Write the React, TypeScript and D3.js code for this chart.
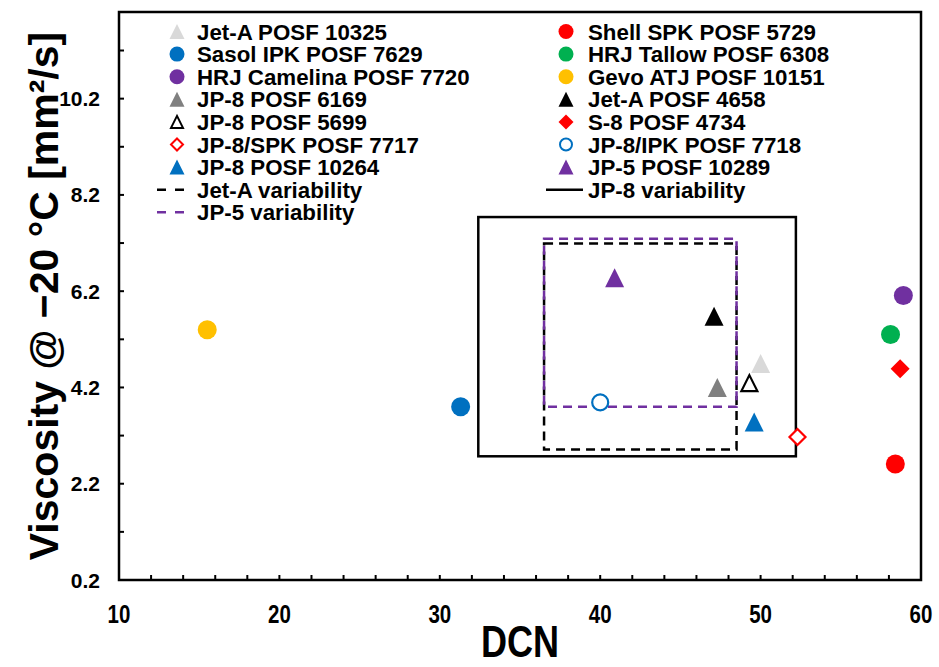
import React, { useRef, useEffect } from 'react';
import * as d3 from 'd3';

// fuel samples: name, derived cetane number, viscosity at -20 C
const fuelNames = [
  'Jet-A POSF 10325', 'Shell SPK POSF 5729', 'Sasol IPK POSF 7629', 'HRJ Tallow POSF 6308',
  'HRJ Camelina POSF 7720', 'Gevo ATJ POSF 10151', 'JP-8 POSF 6169', 'Jet-A POSF 4658',
  'JP-8 POSF 5699', 'S-8 POSF 4734', 'JP-8/SPK POSF 7717', 'JP-8/IPK POSF 7718',
  'JP-8 POSF 10264', 'JP-5 POSF 10289',
];
const dcnValues = [50.0, 58.4, 31.3, 58.1, 58.9, 15.5, 47.3, 47.1, 49.3, 58.7, 52.3, 40.0, 49.6, 40.9];
const viscValues = [4.70, 2.61, 3.80, 5.30, 6.11, 5.40, 4.20, 5.68, 4.29, 4.59, 3.17, 3.89, 3.48, 6.48];

// variability ranges
const rangeNames = ['Jet-A variability', 'JP-5 variability', 'JP-8 variability'];
const rangeDcnMin = [36.5, 36.5, 32.4];
const rangeDcnMax = [48.5, 48.5, 52.2];
const rangeViscMin = [2.91, 3.80, 2.77];
const rangeViscMax = [7.19, 7.29, 7.74];

const yTickLabels = ['0.2', '2.2', '4.2', '6.2', '8.2', '10.2'];
const xTickLabels = ['10', '20', '30', '40', '50', '60'];

// marker look per sample (same order as fuelNames)
const markerShape = ['tri', 'circle', 'circle', 'circle', 'circle', 'circle', 'tri', 'tri', 'tri', 'diamond', 'diamond', 'circle', 'tri', 'tri'];
const markerColor = ['#d9d9d9', '#ff0000', '#0070c0', '#00b050', '#7030a0', '#ffc000', '#808080', '#000000', '#000000', '#ff0000', '#ff0000', '#0070c0', '#0070c0', '#7030a0'];
const markerOpen = [false, false, false, false, false, false, false, false, true, false, true, true, false, false];
const rangeColor = ['#000000', '#7030a0', '#000000'];
const rangeDash = ['9,6', '9,6', null];

const FONT = "'Liberation Sans', Arial, sans-serif";

function markerPath(shape: string, s: number) {
  const h = s / 2;
  if (shape === 'tri') return `M0,${-h}L${h},${h}L${-h},${h}Z`;
  if (shape === 'diamond') return `M0,${-h}L${h},0L0,${h}L${-h},0Z`;
  return `M${h},0A${h},${h} 0 1,1 ${-h},0A${h},${h} 0 1,1 ${h},0Z`;
}

export default function App() {
  const ref = useRef<SVGSVGElement>(null);
  useEffect(() => {
    const svg = d3.select(ref.current);
    svg.selectAll('*').remove();
    const left = 119, right = 921, top = 12, bottom = 580;
    const x = d3.scaleLinear().domain([10, 60]).range([left, right]);
    const y = d3.scaleLinear().domain([0.2, 12]).range([bottom, top]);

    // ticks (inside)
    const ax = svg.append('g');
    d3.range(10, 61, 2).forEach(v => {
      ax.append('line').attr('x1', x(v)).attr('x2', x(v)).attr('y1', bottom).attr('y2', bottom - 5)
        .attr('stroke', '#000').attr('stroke-width', 2);
    });
    d3.range(0, 12).forEach(k => {
      const v = 0.2 + k;
      ax.append('line').attr('x1', left).attr('x2', left + 5).attr('y1', y(v)).attr('y2', y(v))
        .attr('stroke', '#000').attr('stroke-width', 2);
    });
    yTickLabels.forEach(t => {
      ax.append('text').attr('x', 100).attr('y', y(+t)).attr('dy', '0.36em')
        .attr('text-anchor', 'end').attr('font-family', FONT).attr('font-weight', 'bold')
        .attr('font-size', 21).text(t);
    });
    xTickLabels.forEach(t => {
      ax.append('text').attr('transform', `translate(${x(+t)},623) scale(0.82,1)`)
        .attr('text-anchor', 'middle').attr('font-family', FONT).attr('font-weight', 'bold')
        .attr('font-size', 25).text(t);
    });
    ax.append('text').attr('transform', `translate(${(left + right) / 2},657) scale(0.82,1)`)
      .attr('text-anchor', 'middle').attr('font-family', FONT).attr('font-weight', 'bold')
      .attr('font-size', 44).text('DCN');
    ax.append('text').attr('transform', `translate(58,${(top + bottom) / 2}) rotate(-90)`)
      .attr('text-anchor', 'middle').attr('font-family', FONT).attr('font-weight', 'bold')
      .attr('font-size', 41).text('Viscosity @ \u221220 \u00b0C [mm\u00b2/s]');

    // variability boxes
    const order = [2, 0, 1];
    order.forEach(i => {
      svg.append('rect')
        .attr('x', x(rangeDcnMin[i])).attr('y', y(rangeViscMax[i]))
        .attr('width', x(rangeDcnMax[i]) - x(rangeDcnMin[i]))
        .attr('height', y(rangeViscMin[i]) - y(rangeViscMax[i]))
        .attr('fill', 'none').attr('stroke', rangeColor[i]).attr('stroke-width', 2.5)
        .attr('stroke-dasharray', rangeDash[i]);
    });

    // points
    fuelNames.forEach((n, i) => {
      svg.append('path')
        .attr('transform', `translate(${x(dcnValues[i])},${y(viscValues[i])})`)
        .attr('d', markerPath(markerShape[i], markerOpen[i] ? 16 : 19))
        .attr('fill', markerOpen[i] ? '#fff' : markerColor[i])
        .attr('stroke', markerOpen[i] ? markerColor[i] : 'none')
        .attr('stroke-width', 2.2);
    });

    // frame
    svg.append('rect').attr('x', left).attr('y', top).attr('width', right - left).attr('height', bottom - top)
      .attr('fill', 'none').attr('stroke', '#000').attr('stroke-width', 2.5);

    // legend
    const leg = svg.append('g');
    const rowH = 22.6, row0 = 31.5;
    const entries: { label: string; col: number; draw: (g: any) => void }[] = [];
    fuelNames.forEach((n, i) => {
      entries.push({
        label: n, col: i % 2,
        draw: g => g.append('path')
          .attr('d', markerPath(markerShape[i], markerOpen[i] ? 12 : 15))
          .attr('fill', markerOpen[i] ? '#fff' : markerColor[i])
          .attr('stroke', markerOpen[i] ? markerColor[i] : 'none').attr('stroke-width', 2),
      });
    });
    rangeNames.forEach((n, i) => {
      entries.push({
        label: n, col: i === 2 ? 1 : 0,
        draw: g => g.append('line').attr('x1', -20).attr('x2', rangeDash[i] ? 8 : 17)
          .attr('stroke', rangeColor[i]).attr('stroke-width', 2.5)
          .attr('stroke-dasharray', rangeDash[i] ? '9,9' : null),
      });
    });
    const colCount = [0, 0];
    const colX = [177, 566];
    const textX = [197, 588];
    entries.forEach(e => {
      const r = colCount[e.col]++;
      const yy = row0 + r * rowH;
      const g = leg.append('g').attr('transform', `translate(${colX[e.col]},${yy})`);
      e.draw(g);
      leg.append('text').attr('x', textX[e.col]).attr('y', yy).attr('dy', '0.36em')
        .attr('font-family', FONT).attr('font-weight', 'bold').attr('font-size', 22.3).text(e.label);
    });
  }, []);
  return (
    <svg ref={ref} width={939} height={667}
      style={{ position: 'absolute', left: 0, top: 0, background: '#fff' }} />
  );
}
